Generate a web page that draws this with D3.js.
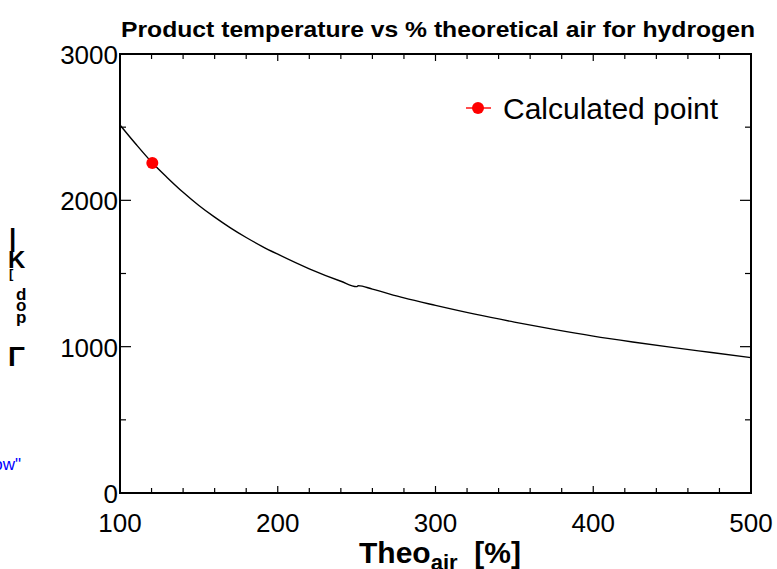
<!DOCTYPE html>
<html>
<head>
<meta charset="utf-8">
<script src="https://cdn.jsdelivr.net/npm/d3@7/dist/d3.min.js"></script>
<style>
  body { margin: 0; background: #fff; }
  text { font-family: "Liberation Sans", Arial, sans-serif; }
</style>
</head>
<body>
<div id="chart"></div>
<script>
// curve
const theoAir = [100, 110, 120, 130, 140, 150, 160, 170, 180, 190, 200, 220, 240, 250, 251, 260, 280, 300, 325, 350, 375, 400, 425, 450, 475, 500]
const tProd = [2515, 2385, 2262, 2155, 2055, 1965, 1885, 1812, 1746, 1686, 1632, 1532, 1447, 1410, 1417, 1393, 1333, 1282, 1222, 1168, 1118, 1072, 1032, 995, 960, 925]
const pointX = [120.5]
const pointY = [2255]
const xTicks = [100, 200, 300, 400, 500]
const yTicks = [0, 1000, 2000, 3000]

const width = 777, height = 569
const svg = d3.select('#chart').append('svg')
  .attr('width', width)
  .attr('height', height)

const x = d3.scaleLinear().domain([100, 500]).range([120, 751])
const y = d3.scaleLinear().domain([0, 3000]).range([493, 54])

// minor ticks, inward, mirrored
const xMinor = d3.range(120, 500, 20).filter(d => d % 100 != 0)
const yMinor = [500, 1500, 2500]
const tk = svg.append('g').attr('stroke', '#000').attr('stroke-width', 1.2)
xTicks.concat(xMinor).forEach(d => {
  const len = d % 100 == 0 ? 7 : 5
  tk.append('line').attr('x1', x(d)).attr('x2', x(d)).attr('y1', y(0)).attr('y2', y(0) - len)
  tk.append('line').attr('x1', x(d)).attr('x2', x(d)).attr('y1', y(3000)).attr('y2', y(3000) + len)
})
yTicks.concat(yMinor).forEach(d => {
  const len = d % 1000 == 0 ? 11 : 6
  tk.append('line').attr('y1', y(d)).attr('y2', y(d)).attr('x1', x(100)).attr('x2', x(100) + len)
  tk.append('line').attr('y1', y(d)).attr('y2', y(d)).attr('x1', x(500)).attr('x2', x(500) - len)
})

// frame
svg.append('rect')
  .attr('x', x(100)).attr('y', y(3000))
  .attr('width', x(500) - x(100)).attr('height', y(0) - y(3000))
  .attr('fill', 'none').attr('stroke', '#000').attr('stroke-width', 2)

// tick labels
svg.selectAll('.xl').data(xTicks).join('text')
  .attr('x', d => x(d)).attr('y', 532)
  .attr('text-anchor', 'middle').attr('font-size', 26)
  .text(d => d)
svg.selectAll('.yl').data(yTicks).join('text')
  .attr('x', x(100) - 2).attr('y', d => y(d) + 10)
  .attr('text-anchor', 'end').attr('font-size', 26)
  .text(d => d)

// curve
const line = d3.line().x((d, i) => x(theoAir[i])).y(d => y(d)).curve(d3.curveMonotoneX)
svg.append('path').datum(tProd)
  .attr('d', line)
  .attr('fill', 'none').attr('stroke', '#000').attr('stroke-width', 1.4)

// calculated point
svg.selectAll('.pt').data(pointX).join('circle')
  .attr('cx', d => x(d)).attr('cy', (d, i) => y(pointY[i]))
  .attr('r', 6).attr('fill', '#ff0000')

// legend
svg.append('line').attr('x1', 466).attr('x2', 491).attr('y1', 108).attr('y2', 108)
  .attr('stroke', '#ff0000').attr('stroke-width', 1.4)
svg.append('circle').attr('cx', 478).attr('cy', 108).attr('r', 6).attr('fill', '#ff0000')
svg.append('text').attr('x', 503).attr('y', 119).attr('font-size', 30).text('Calculated point')

// title
svg.append('text').attr('x', 121).attr('y', 37)
  .attr('font-size', 22).attr('font-weight', 'bold')
  .attr('textLength', 634).attr('lengthAdjust', 'spacingAndGlyphs')
  .text('Product temperature vs % theoretical air for hydrogen')

// x label
const xl = svg.append('text').attr('x', 440).attr('y', 563).attr('text-anchor', 'middle')
  .attr('font-size', 30).attr('font-weight', 'bold').attr('xml:space', 'preserve')
xl.append('tspan').text('Theo')
xl.append('tspan').attr('dy', 7).attr('font-size', 22).text('air')
xl.append('tspan').attr('dy', -7).text('  [%]')

// garbled y label as in the picture
const yl = svg.append('g').attr('font-weight', 'bold').attr('font-size', 26)
yl.append('text').attr('x', 9).attr('y', 247).text('|')
yl.append('text').attr('x', 8).attr('y', 268).attr('font-size', 24).text('K')
yl.append('text').attr('x', 9).attr('y', 278).attr('font-size', 13).text('[')
yl.append('text').attr('x', 16).attr('y', 300).attr('font-size', 17).text('d')
yl.append('text').attr('x', 16).attr('y', 311).attr('font-size', 17).text('o')
yl.append('text').attr('x', 16).attr('y', 323).attr('font-size', 17).text('p')
yl.append('text').attr('x', 8).attr('y', 366).attr('font-size', 28).text('Γ')

// clipped blue text at left
svg.append('text').attr('x', 21).attr('y', 470).attr('text-anchor', 'end')
  .attr('font-size', 17).attr('fill', '#0000ff').text('ow"')
</script>
</body>
</html>
